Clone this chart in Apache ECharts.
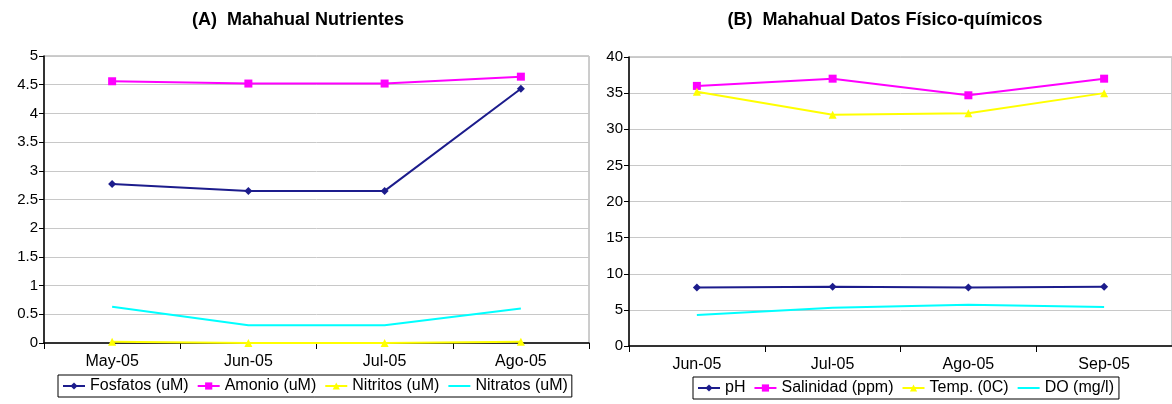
<!DOCTYPE html>
<html><head><meta charset="utf-8">
<script src="https://cdn.jsdelivr.net/npm/echarts@6/dist/echarts.min.js"></script>
<style>html,body{margin:0;padding:0;background:#fff}#c{width:1172px;height:404px}</style>
</head><body><div id="c"></div>
<script>
const catsA = ['May-05','Jun-05','Jul-05','Ago-05'];
const fosfatos = [2.77, 2.65, 2.65, 4.43];
const amonio = [4.56, 4.52, 4.52, 4.64];
const nitritos = [0.02, 0.0, 0.0, 0.02];
const nitratos = [0.63, 0.31, 0.31, 0.60];

const catsB = ['Jun-05','Jul-05','Ago-05','Sep-05'];
const ph = [8.1, 8.2, 8.1, 8.2];
const salinidad = [36.0, 37.0, 34.7, 37.0];
const temp = [35.2, 32.0, 32.2, 35.0];
const doVals = [4.3, 5.3, 5.7, 5.4];

const font = 'Liberation Sans, Arial, sans-serif';
const chart = echarts.init(document.getElementById('c'), null, {renderer:'canvas'});

function xAxis(gi, cats){
  return {type:'category', gridIndex:gi, data:cats, boundaryGap:true,
    axisLine:{lineStyle:{color:'#000', width:1.5}},
    axisTick:{show:true, inside:false, length:6, lineStyle:{color:'#000'}},
    axisLabel:{color:'#000', fontFamily:font, fontSize:16, margin:11},
    splitLine:{show:false}};
}
function yAxis(gi, max, interval){
  return {type:'value', gridIndex:gi, min:0, max:max, interval:interval,
    axisLine:{show:true, lineStyle:{color:'#000', width:1.5}},
    axisTick:{show:true, length:5, lineStyle:{color:'#000'}},
    axisLabel:{color:'#000', fontFamily:font, fontSize:15, margin:6},
    splitLine:{show:true, lineStyle:{color:'#c8c8c8', width:1}}};
}
function line(name, data, color, symbol, size, xi){
  return {name, type:'line', xAxisIndex:xi, yAxisIndex:xi, data,
    symbol, symbolSize:size, showSymbol: symbol!=='none',
    lineStyle:{color, width:2}, itemStyle:{color}, emphasis:{disabled:true}, animation:false};
}
const legText = {fontFamily:font, fontSize:16, color:'#000'};

chart.setOption({
  animation:false,
  title:[
    {text:'(A)  Mahahual Nutrientes', left:293, top:6, textAlign:'center',
     textStyle:{fontFamily:font, fontSize:18, fontWeight:'bold', color:'#000'}},
    {text:'(B)  Mahahual Datos Físico-químicos', left:880, top:6, textAlign:'center',
     textStyle:{fontFamily:font, fontSize:18, fontWeight:'bold', color:'#000'}}
  ],
  grid:[
    {left:44, top:56, width:545, height:287, show:true, borderColor:'#9a9a9a', borderWidth:1},
    {left:629, top:57, width:552, height:289, show:true, borderColor:'#9a9a9a', borderWidth:1}
  ],
  xAxis:[xAxis(0, catsA), xAxis(1, catsB)],
  yAxis:[yAxis(0, 5, 0.5), yAxis(1, 40, 5)],
  legend:[
    {data:['Fosfatos (uM)','Amonio (uM)','Nitritos (uM)',{name:'Nitratos (uM)', itemStyle:{opacity:0}}],
     left:58, top:375, padding:[3,4,3,4], itemGap:8, itemWidth:22, itemHeight:9,
     borderColor:'#000', borderWidth:1, textStyle:legText},
    {data:['pH','Salinidad (ppm)','Temp. (0C)',{name:'DO (mg/l)', itemStyle:{opacity:0}}],
     left:693, top:377, padding:[3,5,3,4], itemGap:8, itemWidth:22, itemHeight:9,
     borderColor:'#000', borderWidth:1, textStyle:legText}
  ],
  series:[
    line('Fosfatos (uM)', fosfatos, '#1c1c8c', 'diamond', 8, 0),
    line('Amonio (uM)', amonio, '#ff00ff', 'rect', 8, 0),
    line('Nitritos (uM)', nitritos, '#ffff00', 'triangle', 8, 0),
    line('Nitratos (uM)', nitratos, '#00ffff', 'none', 0, 0),
    line('pH', ph, '#1c1c8c', 'diamond', 8, 1),
    line('Salinidad (ppm)', salinidad, '#ff00ff', 'rect', 8, 1),
    line('Temp. (0C)', temp, '#ffff00', 'triangle', 8, 1),
    line('DO (mg/l)', doVals, '#00ffff', 'none', 0, 1)
  ]
});
</script></body></html>
